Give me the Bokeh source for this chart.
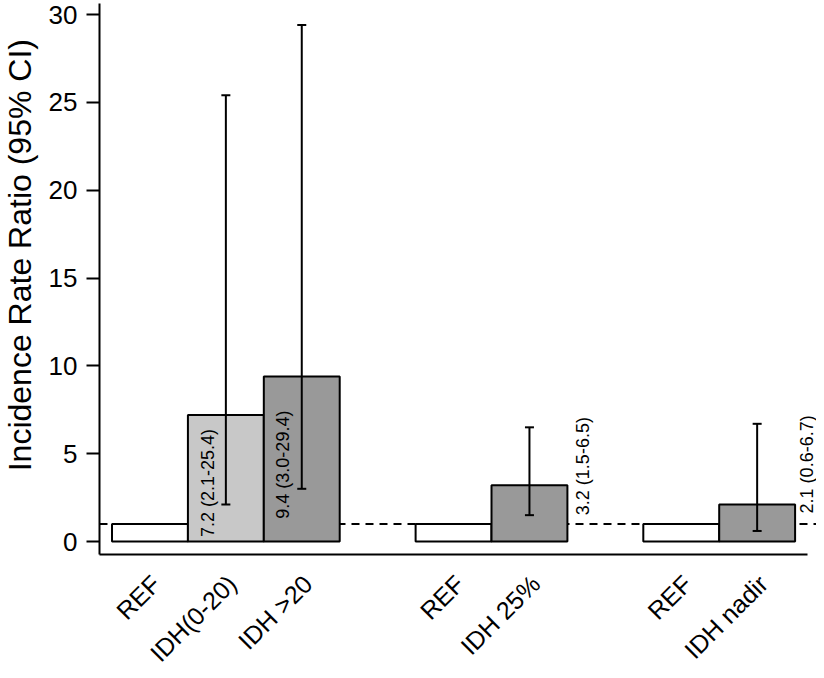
import math
from bokeh.plotting import figure
from bokeh.models import (ColumnDataSource, Whisker, TeeHead, FixedTicker, Range1d, Label)
from bokeh.core.properties import value
from bokeh.embed import file_html
from bokeh.resources import INLINE

# ---- data ----
categories = ["REF", "IDH(0-20)", "IDH >20", "REF", "IDH 25%", "REF", "IDH nadir"]
groups = [0, 0, 0, 1, 1, 2, 2]
irr = [1.0, 7.2, 9.4, 1.0, 3.2, 1.0, 2.1]
ci_lower = [None, 2.1, 3.0, None, 1.5, None, 0.6]
ci_upper = [None, 25.4, 29.4, None, 6.5, None, 6.7]
y_ticks = [0, 5, 10, 15, 20, 25, 30]
ref_value = 1.0

# ---- styles / layout ----
bar_colors = ["white", "#c8c8c8", "#999999", "white", "#999999", "white", "#999999"]
ann_dx = [-0.24, -0.25, 0.71, 0.66]
ann_y = [0.25, 1.3, 1.5, 1.6]
FONT = "Liberation Sans"
PX = 75.9                 # pixels per bar width
X_AXIS = -0.665           # where the value axis sits
X0, X1 = X_AXIS - 99 / PX, 8.782
Y0, Y1 = -7.343, 30.797
AXIS_Y = -0.74            # where the category axis line sits
YAXIS_TOP = 30.62

xpos = [i + g for i, g in enumerate(groups)]

p = figure(width=816, height=670, output_backend="svg", toolbar_location=None,
           x_range=Range1d(X0, X1), y_range=Range1d(Y0, Y1),
           min_border_left=0, min_border_right=0, min_border_top=0, min_border_bottom=0)
p.grid.visible = False
p.outline_line_color = None
p.background_fill_color = "white"
p.border_fill_color = "white"

# reference dashed line at the REF level, from the value axis rightwards (under bars)
p.ray(x=[X_AXIS], y=[ref_value], length=0, angle=0, line_color="black",
      line_width=2, line_dash="8 6")

bars = ColumnDataSource(dict(x=xpos, top=irr, color=bar_colors))
p.vbar(x="x", top="top", bottom=0, width=1.0, source=bars, fill_color="color",
       line_color="black", line_width=2)

ex, elo, ehi = [], [], []
for x, lo, hi in zip(xpos, ci_lower, ci_upper):
    if lo is not None:
        ex.append(x); elo.append(lo); ehi.append(hi)
esrc = ColumnDataSource(dict(x=ex, lo=elo, hi=ehi))
p.add_layout(Whisker(source=esrc, base="x", lower="lo", upper="hi", level="overlay",
                     line_color="black", line_width=2,
                     upper_head=TeeHead(size=9, line_width=2, line_color="black"),
                     lower_head=TeeHead(size=9, line_width=2, line_color="black")))

# rotated value annotations
ann_text = [f"{v} ({lo}-{hi})" for v, lo, hi in zip(irr, ci_lower, ci_upper) if lo is not None]
ax = [x + d for x, d in zip(ex, ann_dx)]
p.text(x=ax, y=ann_y, text=ann_text, angle=math.pi / 2, text_align="left",
       text_baseline="middle", text_font_size="18px", text_font=value(FONT),
       text_color="black")

# y axis (value)
ya = p.yaxis[0]
ya.fixed_location = X_AXIS
ya.ticker = FixedTicker(ticks=y_ticks)
ya.bounds = (AXIS_Y, YAXIS_TOP)
ya.major_label_text_font = FONT
ya.major_label_text_font_size = "26px"
ya.major_label_text_color = "black"
ya.major_label_standoff = 9
ya.major_tick_out = 13
ya.major_tick_in = 0
ya.minor_tick_line_color = None
ya.axis_line_width = 2
ya.major_tick_line_width = 2
ya.axis_line_color = "black"
ya.major_tick_line_color = "black"

# y axis title
p.add_layout(Label(x=X0 + 38 / PX, y=16.3, text="Incidence Rate Ratio (95% CI)",
                   angle=math.pi / 2, text_align="center", text_baseline="bottom",
                   text_font=FONT, text_font_size="32px", text_color="black"))

# x axis (category labels)
xa = p.xaxis[0]
xa.fixed_location = AXIS_Y
lab_ticks = [x + 0.08 for x in xpos]
xa.ticker = FixedTicker(ticks=lab_ticks)
xa.major_label_overrides = {t: c for t, c in zip(lab_ticks, categories)}
xa.major_label_orientation = math.pi / 4
xa.major_label_text_font = FONT
xa.major_label_text_font_size = "25px"
xa.major_label_text_color = "black"
xa.major_label_standoff = 25
xa.major_tick_out = 0
xa.major_tick_in = 0
xa.major_tick_line_color = None
xa.minor_tick_line_color = None
xa.axis_line_width = 2
xa.axis_line_color = "black"
xa.bounds = (X_AXIS, 8.67)

open("out.html", "w").write(file_html(p, INLINE))
